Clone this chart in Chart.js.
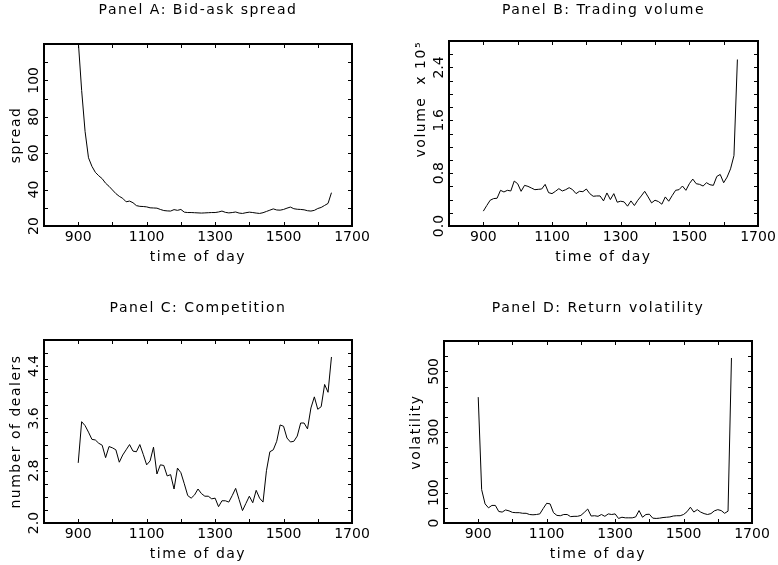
<!DOCTYPE html>
<html>
<head>
<meta charset="utf-8">
<title>Intraday patterns</title>
<script src="https://cdn.jsdelivr.net/npm/chart.js@4.4.1/dist/chart.umd.min.js"></script>
<style>
    html, body { margin: 0; padding: 0; background: #fff; width: 778px; height: 565px; overflow: hidden; }
    canvas { position: absolute; }
</style>
</head>
<body>
<canvas id="panelA" width="392" height="282" style="left:0px;top:0px;width:392px;height:282px"></canvas>
<canvas id="panelB" width="377" height="282" style="left:405px;top:0px;width:377px;height:282px"></canvas>
<canvas id="panelC" width="392" height="275" style="left:0px;top:290px;width:392px;height:275px"></canvas>
<canvas id="panelD" width="376" height="275" style="left:400px;top:290px;width:376px;height:275px"></canvas>
<script>
// time of day (HHMM)
const times = [
    900, 910, 920, 930, 940, 950, 960, 970, 980, 990,
    1000, 1010, 1020, 1030, 1040, 1050, 1060, 1070, 1080, 1090,
    1100, 1110, 1120, 1130, 1140, 1150, 1160, 1170, 1180, 1190,
    1200, 1210, 1220, 1230, 1240, 1250, 1260, 1270, 1280, 1290,
    1300, 1310, 1320, 1330, 1340, 1350, 1360, 1370, 1380, 1390,
    1400, 1410, 1420, 1430, 1440, 1450, 1460, 1470, 1480, 1490,
    1500, 1510, 1520, 1530, 1540, 1550, 1560, 1570, 1580, 1590,
    1600, 1610, 1620, 1630, 1640
];

// Panel A: bid-ask spread
const spread = [
    122, 94.5, 72, 57.5, 52.8, 49.5, 47.6, 46, 43.5, 41.8,
    39.8, 37.8, 36.3, 35.2, 33.3, 33.7, 32.8, 31.2, 30.8, 30.7,
    30.5, 30, 29.9, 29.8, 29.1, 28.5, 28.3, 28.2, 29, 28.6,
    29.1, 27.6, 27.4, 27.4, 27.3, 27.2, 27.1, 27.2, 27.3, 27.4,
    27.4, 27.7, 28.2, 27.5, 27.2, 27.4, 27.7, 27.1, 26.9, 27.3,
    27.6, 27.4, 27.1, 26.9, 27.3, 28, 28.7, 29.4, 28.8, 28.7,
    29.1, 29.8, 30.4, 29.5, 29.2, 29.1, 28.9, 28.4, 28.2, 28.6,
    29.6, 30.2, 31.3, 32.4, 38.3
];

// Panel B: trading volume (x 10^5)
const volume = [
    0.225, 0.31, 0.39, 0.415, 0.42, 0.54, 0.515, 0.54, 0.53, 0.68,
    0.64, 0.525, 0.615, 0.6, 0.575, 0.55, 0.555, 0.56, 0.63, 0.505,
    0.49, 0.525, 0.565, 0.53, 0.55, 0.58, 0.55, 0.49, 0.525, 0.52,
    0.56, 0.49, 0.45, 0.455, 0.455, 0.38, 0.5, 0.4, 0.49, 0.36,
    0.375, 0.365, 0.3, 0.38, 0.31, 0.39, 0.455, 0.525, 0.44, 0.35,
    0.39, 0.37, 0.33, 0.44, 0.375, 0.46, 0.54, 0.55, 0.605, 0.54,
    0.64, 0.71, 0.64, 0.63, 0.605, 0.655, 0.625, 0.615, 0.75, 0.78,
    0.655, 0.74, 0.865, 1.065, 2.52
];

// Panel C: number of dealers
const dealers = [
    2.92, 3.55, 3.49, 3.39, 3.28, 3.27, 3.22, 3.19, 3.00, 3.17,
    3.15, 3.12, 2.93, 3.04, 3.12, 3.20, 3.10, 3.09, 3.20, 3.05,
    2.89, 2.95, 3.16, 2.75, 2.89, 2.88, 2.72, 2.74, 2.52, 2.84,
    2.77, 2.60, 2.42, 2.38, 2.43, 2.52, 2.45, 2.41, 2.41, 2.37,
    2.38, 2.25, 2.34, 2.34, 2.32, 2.42, 2.53, 2.36, 2.19, 2.30,
    2.41, 2.31, 2.50, 2.38, 2.32, 2.80, 3.09, 3.12, 3.25, 3.50,
    3.48, 3.30, 3.24, 3.25, 3.33, 3.53, 3.53, 3.44, 3.76, 3.93,
    3.74, 3.78, 4.12, 4.00, 4.54
];

// Panel D: return volatility
const volatility = [
    415, 110, 63, 50, 58, 58, 38, 36, 43, 40,
    35, 34, 34, 32, 32, 28, 27, 28, 30, 48,
    65, 63, 34, 25, 24, 28, 28, 21, 22, 22,
    25, 35, 46, 23, 24, 22, 28, 22, 30, 28,
    30, 15, 19, 17, 17, 17, 20, 41, 19, 28,
    29, 16, 15, 16, 18, 19, 20, 23, 24, 24,
    28, 37, 52, 36, 44, 36, 31, 28, 31, 40,
    44, 41, 32, 39, 544
];

// tick values
const xLabels = [900, 1100, 1300, 1500, 1700];
const xMarks = [900, 1000, 1100, 1200, 1300, 1400, 1500, 1600];
const yLabelsA = [20, 40, 60, 80, 100];
const yMarksA = [30, 40, 50, 60, 70, 80, 90, 100, 110];
const yLabelsB = [0, 0.8, 1.6, 2.4];
const yMarksB = [0.2, 0.4, 0.6, 0.8, 1.0, 1.2, 1.4, 1.6, 1.8, 2.0, 2.2, 2.4, 2.6];
const yLabelsC = [2.0, 2.8, 3.6, 4.4];
const yMarksC = [2.2, 2.4, 2.6, 2.8, 3.0, 3.2, 3.4, 3.6, 3.8, 4.0, 4.2, 4.4, 4.6];
const yLabelsD = [0, 100, 300, 500];
const yMarksD = [50, 100, 150, 200, 250, 300, 350, 400, 450, 500, 550];

const FAMILY = "'DejaVu Sans', sans-serif";
const FONT = { family: FAMILY, size: 14, weight: 'normal' };

// box with inward ticks on all four sides
const idlFrame = {
    id: 'idlFrame',
    beforeDraw(chart) { chart.ctx.letterSpacing = '1.5px'; },
    beforeDatasetsDraw(chart) { chart.ctx.letterSpacing = '0px'; },
    afterDraw(chart, args, opts) {
        const { ctx, chartArea: a, scales: { x, y } } = chart;
        const len = 4;
        ctx.save();
        ctx.strokeStyle = '#000';
        ctx.lineWidth = 1;
        ctx.beginPath();
        opts.xMarks.forEach(v => {
            const px = Math.round(x.getPixelForValue(v)) + 0.5;
            ctx.moveTo(px, a.bottom); ctx.lineTo(px, a.bottom - len);
            ctx.moveTo(px, a.top); ctx.lineTo(px, a.top + len);
        });
        opts.yMarks.forEach(v => {
            const py = Math.round(y.getPixelForValue(v)) + 0.5;
            ctx.moveTo(a.left, py); ctx.lineTo(a.left + len, py);
            ctx.moveTo(a.right, py); ctx.lineTo(a.right - len, py);
        });
        ctx.stroke();
        ctx.lineWidth = 2;
        ctx.strokeRect(a.left, a.top, a.right - a.left, a.bottom - a.top);
        ctx.restore();
    }
};

const measure = document.createElement('canvas').getContext('2d');
measure.font = '14px ' + FAMILY;

function makePanel(id, p) {
    const labels = p.yLabels.map(p.fmt);
    const widest = Math.max(...labels.map(s => measure.measureText(s).width));
    new Chart(document.getElementById(id), {
        type: 'line',
        data: {
            datasets: [{
                data: times.map((t, i) => ({ x: t, y: p.values[i] })),
                borderColor: '#000',
                borderWidth: 1,
                pointRadius: 0,
                tension: 0,
                fill: false
            }]
        },
        options: {
            responsive: false,
            animation: false,
            events: [],
            layout: { padding: { left: 0, top: 0, bottom: 0, right: p.padRight } },
            plugins: {
                legend: { display: false },
                tooltip: { enabled: false },
                title: {
                    display: true,
                    text: p.title,
                    fullSize: false,
                    color: '#000',
                    font: FONT,
                    padding: { top: p.titleTop, bottom: p.titleBottom }
                },
                idlFrame: { xMarks: xMarks, yMarks: p.yMarks }
            },
            scales: {
                x: {
                    type: 'linear',
                    min: 800,
                    max: 1700,
                    afterBuildTicks: s => { s.ticks = xLabels.map(v => ({ value: v })); },
                    afterFit: s => { s.height = p.xHeight; },
                    grid: { display: false, drawTicks: false },
                    border: { display: false },
                    ticks: { color: '#000', font: FONT, padding: 2.6, maxRotation: 0, autoSkip: false, z: 1, callback: v => String(v) },
                    title: { display: true, text: 'time of day', color: '#000', font: FONT, padding: { top: 0, bottom: p.xHeight - 39.5 } }
                },
                y: {
                    type: 'linear',
                    min: p.yMin,
                    max: p.yMax,
                    afterBuildTicks: s => { s.ticks = p.yLabels.map(v => ({ value: v })); },
                    afterFit: s => { s.width = 44; },
                    grid: { display: false, drawTicks: false },
                    border: { display: false },
                    ticks: {
                        color: '#000', font: FONT, minRotation: 90, maxRotation: 90,
                        crossAlign: 'center', padding: 10 - widest / 2, autoSkip: false, z: 1,
                        callback: v => p.fmt(v)
                    },
                    title: { display: true, text: p.yTitle, align: p.yAlign, color: '#000', font: FONT, padding: { top: 7.6, bottom: 0 } }
                }
            }
        },
        plugins: [idlFrame]
    });
}

makePanel('panelA', {
    title: 'Panel A: Bid-ask spread', values: spread, yTitle: 'spread', yAlign: 'center',
    yMin: 20, yMax: 120, yLabels: yLabelsA, yMarks: yMarksA, fmt: v => String(v),
    titleTop: 2, titleBottom: 25.2, xHeight: 56, padRight: 40
});
makePanel('panelB', {
    title: 'Panel B: Trading volume', values: volume, yTitle: 'volume  x 10\u2075', yAlign: 'end',
    yMin: 0, yMax: 2.8, yLabels: yLabelsB, yMarks: yMarksB, fmt: v => v.toFixed(1),
    titleTop: 2, titleBottom: 22.2, xHeight: 56, padRight: 24
});
makePanel('panelC', {
    title: 'Panel C: Competition', values: dealers, yTitle: 'number of dealers', yAlign: 'center',
    yMin: 2.0, yMax: 4.8, yLabels: yLabelsC, yMarks: yMarksC, fmt: v => v.toFixed(1),
    titleTop: 10.2, titleBottom: 23, xHeight: 42, padRight: 40
});
makePanel('panelD', {
    title: 'Panel D: Return volatility', values: volatility, yTitle: 'volatility', yAlign: 'center',
    yMin: 0, yMax: 600, yLabels: yLabelsD, yMarks: yMarksD, fmt: v => String(v),
    titleTop: 10.2, titleBottom: 24, xHeight: 42, padRight: 24
});
</script>
</body>
</html>
